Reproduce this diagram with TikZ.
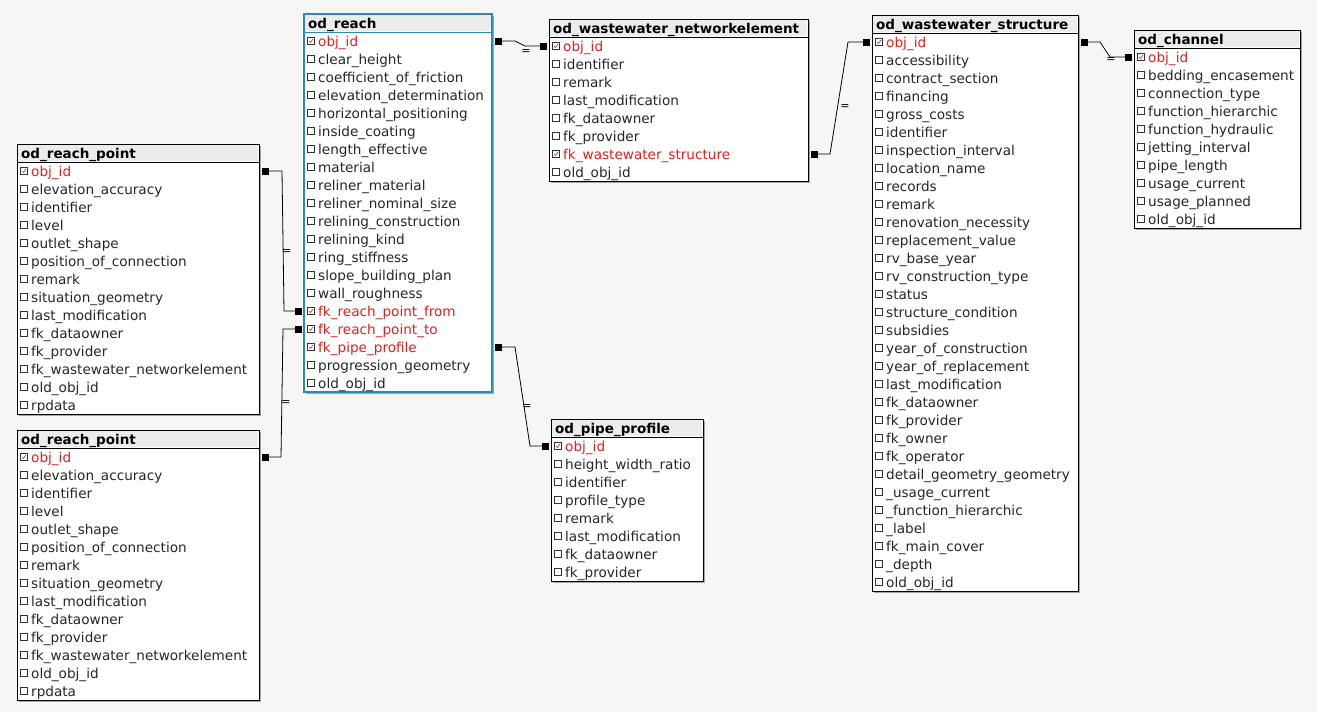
\documentclass[tikz,border=0pt]{standalone}
\usepackage{fontspec}
\setmainfont{DejaVu Sans}
\usetikzlibrary{calc}
\definecolor{bgc}{HTML}{F6F6F5}
\definecolor{keyred}{HTML}{E0201C}
\definecolor{selblue}{HTML}{2A8BB0}
\definecolor{headc}{HTML}{ECECEC}
\def\keymark{k}
\tikzset{
  tbl/.style={draw=black, line width=1pt, fill=white},
  shadow/.style={fill=gray!70, draw=none},
  head/.style={fill=headc, draw=none},
  ttl/.style={anchor=base west, font=\fontsize{13.5}{14}\selectfont\bfseries, inner sep=0pt},
  fld/.style={anchor=base west, font=\fontsize{13.6}{15}\selectfont, inner sep=0pt, text=black!85},
  box/.style={draw=black!80, line width=0.5pt, fill=white, minimum size=7pt, inner sep=0pt},
  knot/.style={fill=black, minimum size=7pt, inner sep=0pt},
  rel/.style={line width=0.8pt},
  eqlbl/.style={font=\fontsize{11}{11}\selectfont, inner sep=0pt}
}
% #1 name, #2 left x, #3 top y, #4 width, #5 border style, #6 title, #7 fields (name/k or name/n)
\newcommand\erdtable[7]{
  \def\nrows{0}
  \foreach \f/\k [count=\n] in {#7} {\xdef\nrows{\n}}
  \pgfmathsetmacro\bottom{#3+18+\nrows*18}
  \fill[shadow] (#2+2,#3+2) rectangle (#2+#4+2,\bottom+2);
  \draw[tbl,#5] (#2,#3) rectangle (#2+#4,\bottom);
  \fill[head] (#2+1,#3+1) rectangle (#2+#4-1,#3+17);
  \draw[#5,line width=0.5pt] (#2,#3+18) -- (#2+#4,#3+18);
  \draw[tbl,#5,fill=none] (#2,#3) rectangle (#2+#4,\bottom);
  \node[ttl] (#1-t) at (#2+4,#3+14) {#6};
  \foreach \f/\k [count=\n] in {#7} {
    \pgfmathsetmacro\yy{#3+18+\n*18-9}
    \node[box] (#1-\n-b) at (#2+7,\yy) {};
    \ifx\k\keymark
      \draw[keyred,line width=0.6pt] ($(#1-\n-b)+(-2,0)$) -- ++(1.5,1.5) -- ++(2.5,-3.5);
      \node[fld,text=keyred] (#1-\n) at (#2+14,\yy+5) {\f};
    \else
      \node[fld] (#1-\n) at (#2+14,\yy+5) {\f};
    \fi
    \coordinate (#1-\n-l) at (#2-6,\yy);
    \coordinate (#1-\n-r) at (#2+#4+6,\yy);
  }
}
\begin{document}
\begin{tikzpicture}[x=1pt,y=-1pt]
\fill[bgc] (0,0) rectangle (1317,712);
\useasboundingbox (0,0) rectangle (1317,712);

% Tabellen
\erdtable{reach}{304}{14}{188}{draw=selblue,line width=2pt}{od\_reach}{
  obj\_id/k, clear\_height/n, coefficient\_of\_friction/n, elevation\_determination/n,
  horizontal\_positioning/n, inside\_coating/n, length\_effective/n, material/n,
  reliner\_material/n, reliner\_nominal\_size/n, relining\_construction/n, relining\_kind/n,
  ring\_stiffness/n, slope\_building\_plan/n, wall\_roughness/n, fk\_reach\_point\_from/k,
  fk\_reach\_point\_to/k, fk\_pipe\_profile/k, progression\_geometry/n, old\_obj\_id/n}
\erdtable{ne}{549}{19}{259}{}{od\_wastewater\_networkelement}{
  obj\_id/k, identifier/n, remark/n, last\_modification/n, fk\_dataowner/n,
  fk\_provider/n, fk\_wastewater\_structure/k, old\_obj\_id/n}
\erdtable{ws}{872}{15}{206}{}{od\_wastewater\_structure}{
  obj\_id/k, accessibility/n, contract\_section/n, financing/n, gross\_costs/n,
  identifier/n, inspection\_interval/n, location\_name/n, records/n, remark/n,
  renovation\_necessity/n, replacement\_value/n, rv\_base\_year/n, rv\_construction\_type/n,
  status/n, structure\_condition/n, subsidies/n, year\_of\_construction/n,
  year\_of\_replacement/n, last\_modification/n, fk\_dataowner/n, fk\_provider/n,
  fk\_owner/n, fk\_operator/n, detail\_geometry\_geometry/n, \_usage\_current/n,
  \_function\_hierarchic/n, \_label/n, fk\_main\_cover/n, \_depth/n, old\_obj\_id/n}
\erdtable{ch}{1134}{30}{166}{}{od\_channel}{
  obj\_id/k, bedding\_encasement/n, connection\_type/n, function\_hierarchic/n,
  function\_hydraulic/n, jetting\_interval/n, pipe\_length/n, usage\_current/n,
  usage\_planned/n, old\_obj\_id/n}
\erdtable{rpa}{17}{144}{242}{}{od\_reach\_point}{
  obj\_id/k, elevation\_accuracy/n, identifier/n, level/n, outlet\_shape/n,
  position\_of\_connection/n, remark/n, situation\_geometry/n, last\_modification/n,
  fk\_dataowner/n, fk\_provider/n, fk\_wastewater\_networkelement/n, old\_obj\_id/n, rpdata/n}
\erdtable{rpb}{17}{430}{242}{}{od\_reach\_point}{
  obj\_id/k, elevation\_accuracy/n, identifier/n, level/n, outlet\_shape/n,
  position\_of\_connection/n, remark/n, situation\_geometry/n, last\_modification/n,
  fk\_dataowner/n, fk\_provider/n, fk\_wastewater\_networkelement/n, old\_obj\_id/n, rpdata/n}
\erdtable{pp}{551}{419}{152}{}{od\_pipe\_profile}{
  obj\_id/k, height\_width\_ratio/n, identifier/n, profile\_type/n, remark/n,
  last\_modification/n, fk\_dataowner/n, fk\_provider/n}

% Beziehungen
\draw[rel] (reach-1-r) -- ++(17,0) -- ($(ne-1-l)+(-18,0)$) -- (ne-1-l);
\draw[rel] (ne-7-r) -- ++(16,0) -- ($(ws-1-l)+(-18,0)$) -- (ws-1-l);
\draw[rel] (ws-1-r) -- ++(16,0) -- ($(ch-1-l)+(-18,0)$) -- (ch-1-l);
\draw[rel] (rpa-1-r) -- ++(17,0) -- ($(reach-16-l)+(-14,0)$) -- (reach-16-l);
\draw[rel] (rpb-1-r) -- ++(16,0) -- ($(reach-17-l)+(-15,0)$) -- (reach-17-l);
\draw[rel] (reach-18-r) -- ++(17,0) -- ($(pp-1-l)+(-15,0)$) -- (pp-1-l);
\foreach \c in {reach-1-r, ne-1-l, ne-7-r, ws-1-l, ws-1-r, ch-1-l,
  rpa-1-r, reach-16-l, rpb-1-r, reach-17-l, reach-18-r, pp-1-l}
  \node[knot] at (\c) {};
\node[eqlbl] (e1) at (526,52) {=};
\node[eqlbl] (e2) at (845,107) {=};
\node[eqlbl] (e3) at (1111,60) {=};
\node[eqlbl] (e4) at (287,252) {=};
\node[eqlbl] (e5) at (286,403) {=};
\node[eqlbl] (e6) at (527,407) {=};
\end{tikzpicture}
\end{document}
